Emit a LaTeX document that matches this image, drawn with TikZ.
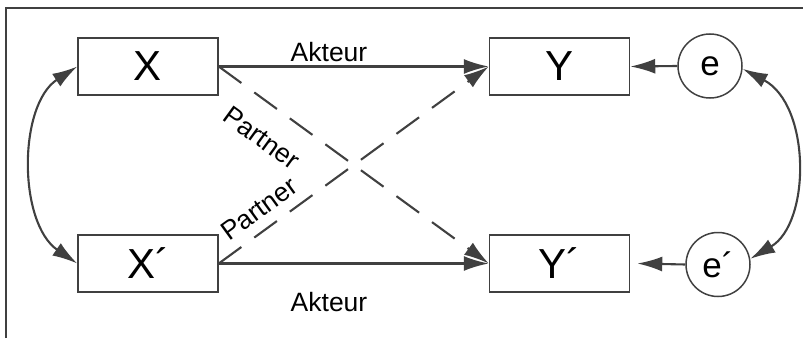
\documentclass[tikz,border=0pt]{standalone}
\usepackage{fontspec}
\setmainfont{Liberation Sans}
\usetikzlibrary{arrows.meta}
\definecolor{ink}{HTML}{404040}
\begin{document}
\begin{tikzpicture}[x=1pt,y=1pt,
  every node/.style={text=black},
  var/.style={draw=ink, line width=1.5pt, minimum width=140pt, minimum height=57pt,
    inner sep=0pt, font=\fontsize{42}{42}\selectfont},
  err/.style={draw=ink, line width=1.5pt, circle, minimum size=64pt, inner sep=0pt,
    font=\fontsize{35}{35}\selectfont},
  path/.style={draw=ink, line width=2.1pt, -{Latex[length=25pt,width=15pt]}},
  cov/.style={draw=ink, line width=2.1pt, {Latex[length=25pt,width=15pt]}-{Latex[length=25pt,width=15pt]}},
  cross/.style={path, dash pattern=on 28pt off 16pt},
  lbl/.style={font=\fontsize{26.5}{26.5}\selectfont, inner sep=0pt}]
\useasboundingbox (0,0) rectangle (803,338);
% frame
\draw[ink, line width=1.6pt] (6,0) -- (6,330) -- (803,330);
% variables
\node[var] (X)  at (148,271.5) {X};
\node[var] (Xp) at (148,74.5) {X\textasciiacute};
\node[var] (Y)  at (559.5,271.5) {Y};
\node[var] (Yp) at (559.5,74.5) {Y\textasciiacute};
\node[err] (e)  at (710,272) {e};
\node[err] (ep) at (718,73.5) {e\textasciiacute};
% actor effects
\draw[path] (X.east) -- (Y.west);
\draw[path] (Xp.east) -- (Yp.west);
% partner effects
\draw[cross] (X.east) -- (Yp.west);
\draw[cross] (Xp.east) -- (Y.west);
% residuals
\draw[path] (e.west) -- (Y.east);
\draw[path] (ep.west) -- ([xshift=7pt]Yp.east);
% covariances
\draw[cov] (X.west) .. controls (18,233) and (18,115) .. (Xp.west);
\draw[cov] (e.-5) .. controls (811,233) and (811,115) .. (ep.10);
% labels
\node[lbl] (a1) at (329,286) {Akteur};
\node[lbl] (a2) at (329,36) {Akteur};
\node[lbl, rotate=-36] (p1) at (262,200) {Partner};
\node[lbl, rotate=36] (p2) at (259,129) {Partner};
\end{tikzpicture}
\end{document}
